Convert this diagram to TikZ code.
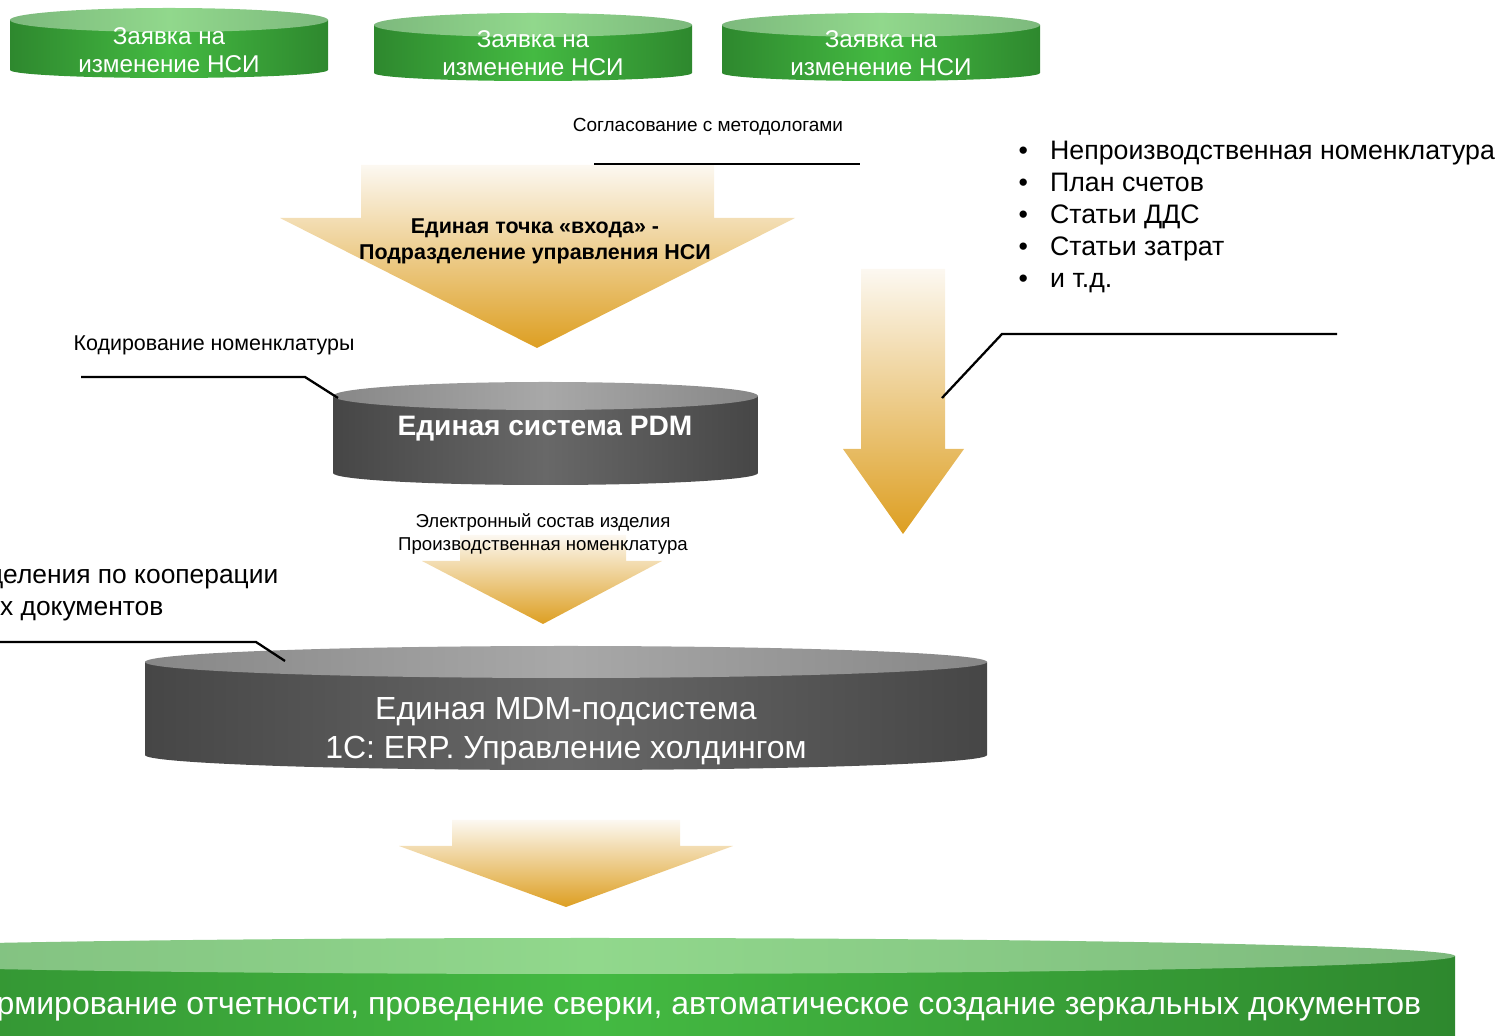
\documentclass[tikz,border=0pt]{standalone}
\usepackage{fontspec}
\setmainfont{Liberation Sans}
\usepackage{tikz}
\definecolor{gside}{RGB}{46,136,46}
\definecolor{gmid}{RGB}{68,186,66}
\definecolor{glid}{RGB}{125,185,125}
\definecolor{glidmid}{RGB}{145,216,140}
\definecolor{kside}{RGB}{70,70,70}
\definecolor{kmid}{RGB}{104,104,104}
\definecolor{klid}{RGB}{135,135,135}
\definecolor{klidmid}{RGB}{168,168,168}
\definecolor{goldtop}{RGB}{252,248,241}
\definecolor{goldbot}{RGB}{221,159,34}
\tikzset{
	flow/.style={top color=goldtop,bottom color=goldbot},
	callout/.style={line width=0.65pt},
	txt/.style 2 args={inner sep=0pt,align=center,font=\fontsize{#1}{#2}\selectfont},
	boldtxt/.style 2 args={inner sep=0pt,align=center,font=\fontsize{#1}{#2}\selectfont\bfseries}
}
% drum: name, cx, y top, y bottom, half width, top ry, bottom ry, palette
\newcommand{\drum}[8]{%
	\shade[left color=#8side,right color=#8side,middle color=#8mid]
		(#2-#5,#3) -- (#2-#5,#4) arc[start angle=180,end angle=360,x radius=#5,y radius=#7] -- (#2+#5,#3) -- cycle;
	\shade[left color=#8lid,right color=#8lid,middle color=#8lidmid]
		(#2,#3) ellipse[x radius=#5,y radius=#6];
	\coordinate (#1) at (#2,#3);
}

\begin{document}
\begin{tikzpicture}[x=0.01cm,y=0.01cm]
	\useasboundingbox (0,0) rectangle (1499,1036);
	\clip (0,0) rectangle (1499,1036);

	% requests
	\drum{req1}{169}{1016}{966}{159}{12}{8}{g}
	\node [txt={6.9}{8.1},text=white] (r1) at (169,986) {Заявка на\\изменение НСИ};
	\drum{req2}{533}{1011}{963}{159}{12}{8}{g}
	\node [txt={6.9}{8.1},text=white] (r2) at (533,983) {Заявка на\\изменение НСИ};
	\drum{req3}{881}{1011}{963}{159}{12}{8}{g}
	\node [txt={6.9}{8.1},text=white] (r3) at (881,983) {Заявка на\\изменение НСИ};

	% entry point
	\node [txt={5.4}{6.5}] (sogl) at (708,909) {Согласование с методологами};
	\shade[flow] (361,871) -- (714,871) -- (714,818) -- (795,818) -- (537,688) -- (280,818) -- (361,818) -- cycle;
	\coordinate (sogl-a) at (594,872);
	\coordinate (sogl-b) at (860,872);
	\draw[callout] (sogl-a) -- (sogl-b);
	\node [boldtxt={6.1}{7.4}] (entry) at (535,795) {Единая точка «входа» -\\Подразделение управления НСИ};

	% reference books
	\node [txt={7.6}{9.1},align=left,anchor=base west] (vids) at (1018,876) {%
		\begin{tabular}[t]{@{}l@{\hspace{6.3pt}}l@{}}
		•&Непроизводственная номенклатура\\
		•&План счетов\\
		•&Статьи ДДС\\
		•&Статьи затрат\\
		•&и т.д.
		\end{tabular}};
	\shade[flow] (861,767) -- (945,767) -- (945,587) -- (964,587) -- (903,502) -- (843,587) -- (861,587) -- cycle;
	\coordinate (sp-a) at (1337,702);
	\coordinate (sp-b) at (1002,702);
	\coordinate (sp-c) at (942,638);
	\draw[callout] (sp-a) -- (sp-b) -- (sp-c);

	% PDM
	\node [txt={6.1}{7.3}] (kod) at (214,691) {Кодирование номенклатуры};
	\drum{pdm}{545.5}{640}{563}{212.5}{14}{12}{k}
	\node [boldtxt={8}{9.6},text=white] (pdm-t) at (545,607) {Единая система PDM};
	\coordinate (kod-a) at (81,659);
	\coordinate (kod-b) at (305,659);
	\coordinate (kod-c) at (338,638);
	\draw[callout] (kod-a) -- (kod-b) -- (kod-c);

	\shade[flow] (460,501) -- (626,501) -- (626,475) -- (662,475) -- (543,412) -- (422,475) -- (460,475) -- cycle;
	\node [txt={5.3}{6.5}] (sostav) at (543,502) {Электронный состав изделия\\Производственная номенклатура};

	% MDM
	\node [txt={7.5}{9},anchor=base east] (koop1) at (279,452) {деления по кооперации};
	\node [txt={7.5}{9},anchor=base east] (koop2) at (164,420) {х документов};
	\drum{mdm}{566}{374}{281}{421}{16}{15}{k}
	\node [txt={9.1}{11.1},text=white] (mdm-t) at (566,305) {Единая MDM-подсистема\\1С: ERP. Управление холдингом};
	\coordinate (koop-a) at (-5,394);
	\coordinate (koop-b) at (256,394);
	\coordinate (koop-c) at (285,375);
	\draw[callout] (koop-a) -- (koop-b) -- (koop-c);

	\shade[flow] (452,216) -- (680,216) -- (680,190) -- (733,190) -- (566,129) -- (399,190) -- (452,190) -- cycle;

	% reporting
	\drum{rep}{590}{80}{-60}{865}{18}{10}{g}
	\node [txt={9.1}{10.9},text=white,anchor=base east] (rep-t) at (1422,21) {рмирование отчетности, проведение сверки, автоматическое создание зеркальных документов};
\end{tikzpicture}
\end{document}
